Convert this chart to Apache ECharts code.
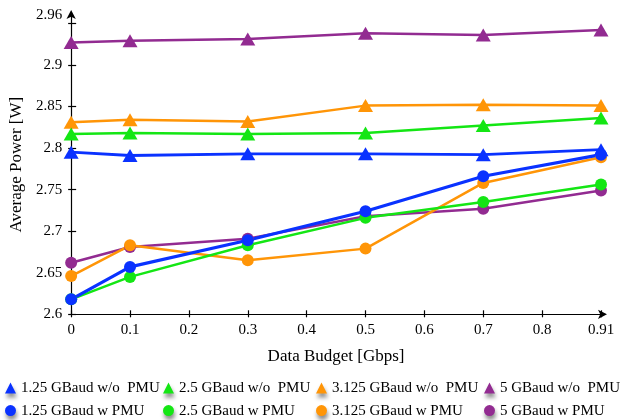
<!DOCTYPE html>
<html>
<head>
<meta charset="utf-8">
<script src="https://cdn.jsdelivr.net/npm/echarts@6/dist/echarts.min.js"></script>
<style>
  html, body { margin: 0; padding: 0; background: #fff; }
  #chart { width: 621px; height: 420px; }
</style>
</head>
<body>
<div id="chart"></div>
<script>
// Tick labels of the data-budget axis and the budgets that were measured
const xTickLabels = ['0', '0.1', '0.2', '0.3', '0.4', '0.5', '0.6', '0.7', '0.8', '0.91'];
const budgets = ['0', '0.1', '0.3', '0.5', '0.7', '0.91'];

// Power axis ticks and the values that carry a label
const yTickValues = [2.6, 2.65, 2.7, 2.75, 2.8, 2.85, 2.9, 2.95];
const yLabelValues = [2.6, 2.65, 2.7, 2.75, 2.8, 2.85, 2.9, 2.96];

// Average power [W] without the PMU
const woPmu125 = [2.795, 2.791, 2.793, 2.793, 2.792, 2.798];
const woPmu25 = [2.817, 2.818, 2.817, 2.818, 2.827, 2.836];
const woPmu3125 = [2.831, 2.834, 2.832, 2.851, 2.852, 2.851];
const woPmu5 = [2.927, 2.929, 2.931, 2.938, 2.936, 2.942];

// Average power [W] with the PMU
const wPmu125 = [2.618, 2.657, 2.689, 2.724, 2.766, 2.792];
const wPmu25 = [2.618, 2.645, 2.683, 2.716, 2.735, 2.756];
const wPmu3125 = [2.646, 2.683, 2.665, 2.679, 2.758, 2.789];
const wPmu5 = [2.662, 2.681, 2.691, 2.718, 2.727, 2.749];

const BLUE = '#0a32ff';
const GREEN = '#14e614';
const ORANGE = '#ff9507';
const PURPLE = '#922b91';
const FONT = '"Liberation Serif", "DejaVu Serif", serif';

const pairs = vals => budgets.map((b, i) => [b, vals[i]]);

function lineSeries(name, vals, color, symbol, width) {
  return {
    name: name,
    type: 'line',
    data: pairs(vals),
    symbol: symbol,
    symbolSize: symbol === 'triangle' ? [15, 13] : 12,
    showSymbol: true,
    lineStyle: { color: color, width: width },
    itemStyle: { color: color, borderWidth: 0 },
    emphasis: { disabled: true }
  };
}

const series = [
  lineSeries('5 GBaud w/o  PMU', woPmu5, PURPLE, 'triangle', 2.5),
  lineSeries('3.125 GBaud w/o  PMU', woPmu3125, ORANGE, 'triangle', 2.5),
  lineSeries('2.5 GBaud w/o  PMU', woPmu25, GREEN, 'triangle', 2.5),
  lineSeries('1.25 GBaud w/o  PMU', woPmu125, BLUE, 'triangle', 2.8),
  lineSeries('5 GBaud w PMU', wPmu5, PURPLE, 'circle', 2.5),
  lineSeries('3.125 GBaud w PMU', wPmu3125, ORANGE, 'circle', 2.5),
  lineSeries('2.5 GBaud w PMU', wPmu25, GREEN, 'circle', 2.5),
  lineSeries('1.25 GBaud w PMU', wPmu125, BLUE, 'circle', 3.2)
];

const legendColumns = [
  { left: 5, items: ['1.25 GBaud w/o  PMU', '1.25 GBaud w PMU'] },
  { left: 163, items: ['2.5 GBaud w/o  PMU', '2.5 GBaud w PMU'] },
  { left: 316, items: ['3.125 GBaud w/o  PMU', '3.125 GBaud w PMU'] },
  { left: 484, items: ['5 GBaud w/o  PMU', '5 GBaud w PMU'] }
];

const legends = legendColumns.map(col => ({
  orient: 'vertical',
  left: col.left,
  top: 380,
  padding: 0,
  itemGap: 6.6,
  itemWidth: 11,
  itemHeight: 11,
  selectedMode: false,
  data: [
    { name: col.items[0], icon: 'triangle' },
    { name: col.items[1], icon: 'circle' }
  ],
  itemStyle: {
    shadowColor: 'rgba(0,0,0,0.45)',
    shadowBlur: 4,
    shadowOffsetX: 1,
    shadowOffsetY: 4
  },
  textStyle: { fontFamily: FONT, fontSize: 15, color: '#000', lineHeight: 16, padding: [0, 0, 0, 0] }
}));

const labelFmt = v => String(+(+v).toFixed(2));

const chart = echarts.init(document.getElementById('chart'), null, { renderer: 'canvas' });
chart.setOption({
  animation: false,
  backgroundColor: '#fff',
  grid: { left: 70, right: 20, top: 15, bottom: 105.7, containLabel: false },
  legend: legends,
  xAxis: [
    {
      type: 'category',
      data: xTickLabels,
      boundaryGap: false,
      name: 'Data Budget [Gbps]',
      nameLocation: 'middle',
      nameGap: 34,
      nameTextStyle: { fontFamily: FONT, fontSize: 17, color: '#000' },
      axisLine: { lineStyle: { color: '#000', width: 1.2 }, symbol: ['none', 'arrow'], symbolSize: [7, 9], symbolOffset: [0, 6] },
      axisTick: { inside: true, length: 4, alignWithLabel: true, lineStyle: { color: '#000', width: 1.2 } },
      axisLabel: { margin: 8, fontFamily: FONT, fontSize: 15, color: '#000', interval: 0 },
      splitLine: { show: false }
    },
    {
      type: 'category',
      data: xTickLabels,
      boundaryGap: false,
      position: 'bottom',
      axisLine: { show: false },
      axisTick: { inside: false, length: 3, lineStyle: { color: '#000', width: 1.2 } },
      axisLabel: { show: false },
      splitLine: { show: false }
    }
  ],
  yAxis: [
    {
      type: 'value',
      min: 2.6,
      max: 2.96,
      name: 'Average Power [W]',
      nameLocation: 'middle',
      nameGap: 40,
      nameTextStyle: { fontFamily: FONT, fontSize: 17, color: '#000' },
      axisLine: { show: true, lineStyle: { color: '#000', width: 1.2 }, symbol: ['none', 'arrow'], symbolSize: [7, 9], symbolOffset: [0, 5] },
      axisTick: { show: true, inside: true, length: 5, customValues: yTickValues, lineStyle: { color: '#000', width: 1.2 } },
      axisLabel: { margin: 9, fontFamily: FONT, fontSize: 15, color: '#000', customValues: yLabelValues, formatter: labelFmt },
      splitLine: { show: false }
    },
    {
      type: 'value',
      min: 2.6,
      max: 2.96,
      position: 'left',
      axisLine: { show: false },
      axisTick: { show: true, inside: false, length: 3, customValues: yTickValues, lineStyle: { color: '#000', width: 1.2 } },
      axisLabel: { show: false },
      splitLine: { show: false }
    }
  ],
  series: series
});
</script>
</body>
</html>
